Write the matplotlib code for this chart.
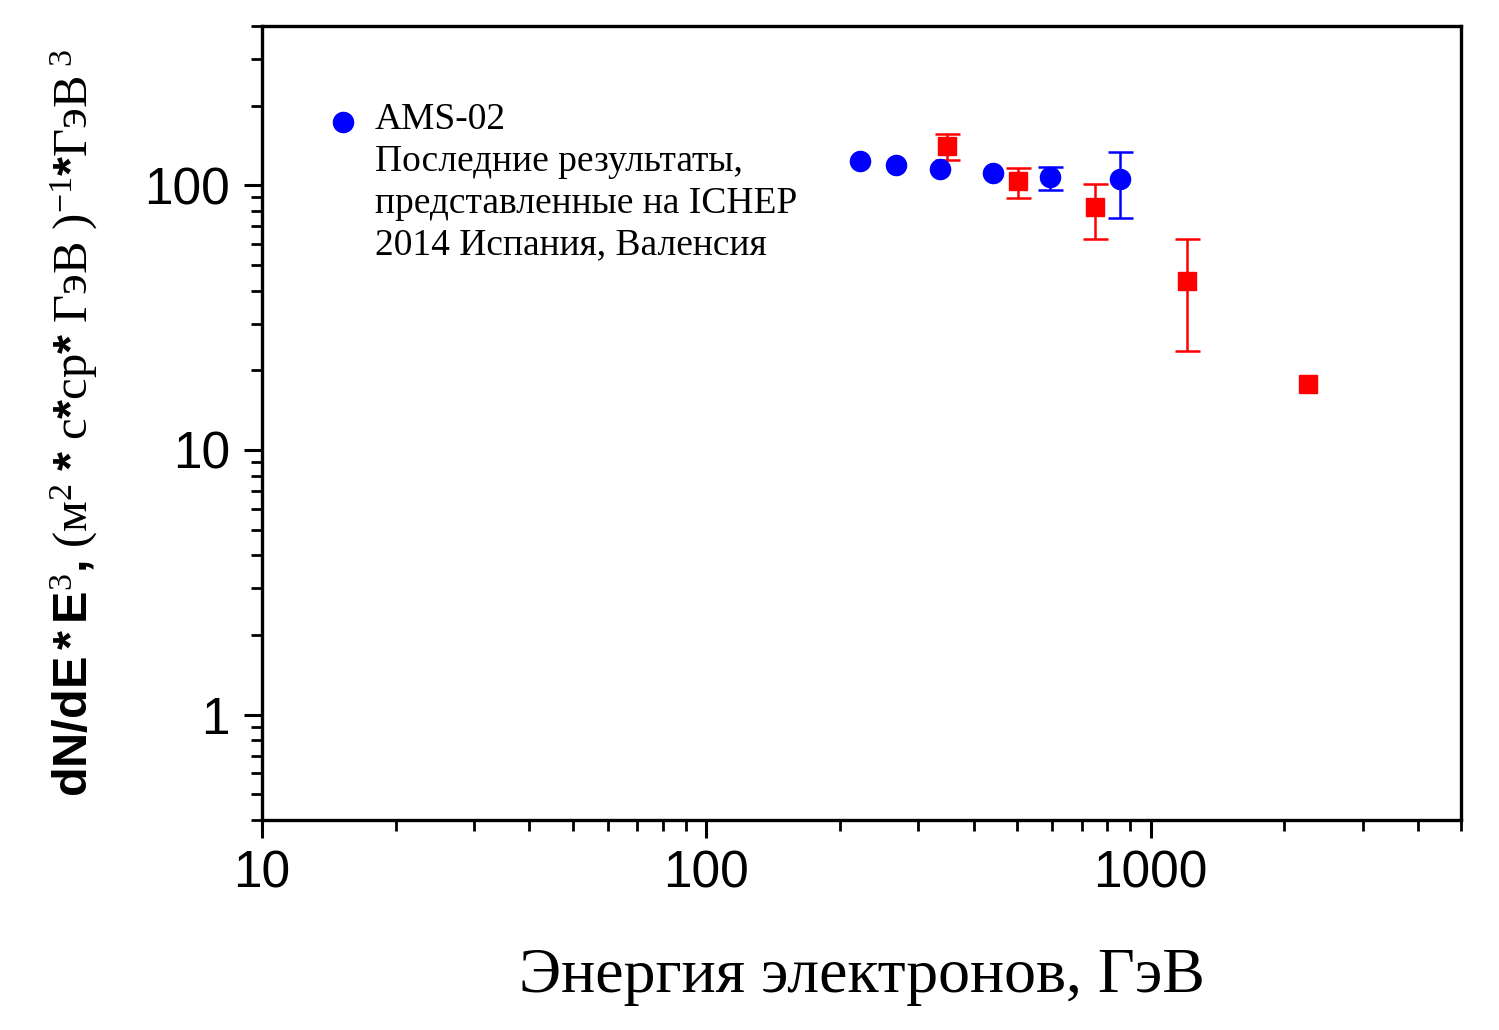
import matplotlib
matplotlib.use("Agg")
import matplotlib.pyplot as plt
import numpy as np
from matplotlib.ticker import FixedLocator, NullFormatter

# ---- data ----
ams_energy = [222, 267, 336, 442, 593, 853]
ams_flux = [123.6, 119.4, 115.0, 111.0, 107.6, 105.5]
ams_err_low = [np.nan, np.nan, np.nan, np.nan, 11.4, 30.0]
ams_err_high = [np.nan, np.nan, np.nan, np.nan, 9.4, 28.0]

red_energy = [349, 502, 750, 1205, 2256]
red_flux = [140.6, 104.0, 83.1, 43.4, 17.8]
red_err_low = [15.7, 14.2, 20.5, 19.7, np.nan]
red_err_high = [15.8, 12.6, 18.2, 19.1, np.nan]

x_major = [10, 100, 1000]
x_major_labels = ["10", "100", "1000"]
y_major = [1, 10, 100]
y_major_labels = ["1", "10", "100"]

legend_title = "AMS-02"
legend_note = "Последние результаты,\nпредставленные на ICHEP\n2014 Испания, Валенсия"
xlabel = "Энергия электронов, ГэВ"
ylabel = (r"$\mathbf{dN/dE*E}^{3}\mathbf{,}\ (\mathrm{м}^{2}\ \mathbf{*}\ \mathrm{с}\mathbf{*}"
          r"\mathrm{ср}\mathbf{*}\ \mathrm{ГэВ}\ )^{-1}\mathbf{*}\mathrm{ГэВ}^{\ 3}$")

plt.rcParams["mathtext.fontset"] = "custom"
plt.rcParams["mathtext.rm"] = "Liberation Serif"
plt.rcParams["mathtext.sf"] = "Liberation Sans"
plt.rcParams["mathtext.bf"] = "Liberation Sans:bold"
plt.rcParams["mathtext.it"] = "Liberation Serif:italic"
plt.rcParams["font.family"] = ["Liberation Sans", "DejaVu Sans"]

fig = plt.figure(figsize=(14.99, 10.30), dpi=100)
ax = fig.add_axes([0.1748, 0.2039, 0.7999, 0.7709])

ax.set_xscale("log")
ax.set_yscale("log")
ax.set_xlim(10, 5000)
ax.set_ylim(0.4, 400)

blue = "#0000FF"
red = "#FF0000"

ax.errorbar(red_energy, red_flux, yerr=[red_err_low, red_err_high], fmt="s",
            color=red, ms=13, elinewidth=1.8, capsize=9, capthick=1.8, zorder=3)
ax.errorbar(ams_energy, ams_flux, yerr=[ams_err_low, ams_err_high], fmt="o",
            color=blue, ms=14.5, elinewidth=1.8, capsize=9, capthick=1.8, zorder=4)

# axis ticks
ax.xaxis.set_major_locator(FixedLocator(x_major))
ax.set_xticklabels(x_major_labels)
ax.xaxis.set_minor_locator(FixedLocator(
    [v * d for d in (10, 100, 1000) for v in range(2, 10) if v * d <= 5000]))
ax.xaxis.set_minor_formatter(NullFormatter())
ax.yaxis.set_major_locator(FixedLocator(y_major))
ax.set_yticklabels(y_major_labels)
ax.yaxis.set_minor_locator(FixedLocator(
    [v * d for d in (0.1, 1, 10, 100) for v in range(2, 10) if 0.4 <= v * d <= 400]))
ax.yaxis.set_minor_formatter(NullFormatter())

ax.tick_params(which="major", direction="out", length=13, width=2.2, labelsize=37,
               pad=8)
ax.tick_params(which="minor", direction="out", length=8, width=2.0)
ax.tick_params(axis="y", pad=10)
for s in ax.spines.values():
    s.set_linewidth(2.4)

ax.set_xlabel(xlabel, family="Liberation Serif", fontsize=46, labelpad=36)
ax.set_ylabel(ylabel, fontsize=35)
ax.yaxis.set_label_coords(-0.135, 0.5)

# legend
ax.plot([0.0676], [0.879], "o", color=blue, ms=14.5, transform=ax.transAxes,
        clip_on=False)
ax.text(0.0942, 0.903, legend_title + "\n" + legend_note, transform=ax.transAxes,
        family="Liberation Serif", fontsize=27, va="top", ha="left",
        linespacing=1.27)

fig.savefig("out.png", dpi=100)
